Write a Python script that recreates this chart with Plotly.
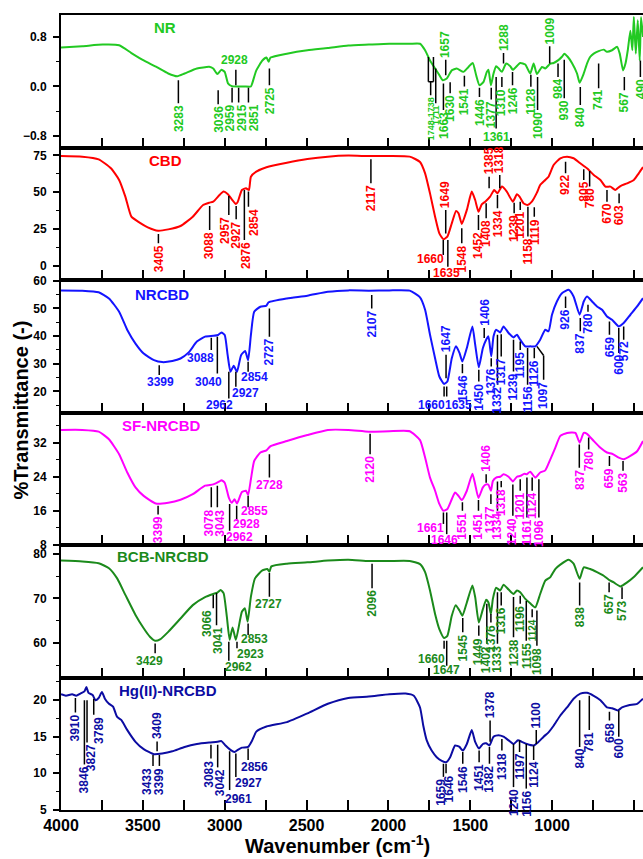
import plotly.graph_objects as go

FONT = "Liberation Sans, Arial, sans-serif"

# ---------------- spectra (wavenumber, %T) ----------------
nr_wn = [4000,3870,3745,3645,3570,3495,3420,3345,3290,3245,
         3170,3095,3070,3045,3020,3000,2980,2957,2920,2880,
         2840,2832,2807,2770,2745,2732,2720,2620,2495,2370,
         2245,2120,1995,1870,1807,1776,1746,1715,1695,1668,
         1644,1613,1583,1542,1511,1485,1464,1444,1419,1399,
         1389,1374,1358,1342,1326,1307,1281,1256,1240,1195,
         1164,1134,1113,1093,1062,1042,1011,991,960,940,
         926,905,879,848,832,807,787,767,746,716,
         685,665,634,603,587,567,552,538,522,510,
         501,489,477,465,457,445]
nr_t = [0.63,0.65,0.676,0.666,0.54,0.42,0.32,0.21,0.166,0.21,
        0.29,0.317,0.29,0.20,0.27,0.236,0.05,0.005,0.0,0.0,
        0.0,0.05,0.26,0.42,0.467,0.40,0.467,0.53,0.585,0.62,
        0.66,0.676,0.69,0.69,0.69,0.585,0.42,0.29,0.21,0.10,
        0.128,0.26,0.29,0.236,0.316,0.38,0.18,0.02,0.075,0.236,
        0.27,0.02,0.21,0.327,0.29,0.236,0.37,0.327,0.27,0.38,
        0.354,0.21,0.37,0.20,0.316,0.29,0.37,0.38,0.43,0.48,
        0.53,0.48,0.38,0.21,0.06,0.21,0.37,0.48,0.53,0.57,
        0.595,0.56,0.585,0.64,0.53,0.26,0.37,0.585,0.90,0.585,
        1.12,0.53,1.07,0.42,1.12,0.8]

cbd_wn = [4000,3870,3770,3695,3645,3607,3570,3520,3470,3407,
          3345,3270,3195,3132,3095,3070,3032,3007,2982,2957,
          2932,2920,2895,2870,2852,2840,2807,2745,2620,2495,
          2370,2245,2120,1995,1870,1807,1776,1746,1715,1689,
          1664,1640,1613,1587,1572,1552,1521,1491,1470,1450,
          1430,1409,1379,1354,1334,1307,1277,1240,1215,1199,
          1175,1150,1124,1093,1073,1042,1022,991,950,909,
          869,828,787,746,705,675,644,614,583,542,
          501,471,445]
cbd_t = [74.5,74.1,72.3,66.2,58.3,47,33.4,29.4,26.2,23.9,
         24.8,27.1,33.4,41.3,42.9,43.6,48.1,50.4,48.8,45.2,
         42,43.6,51.5,52.6,51.5,60.5,63.9,66.9,70,72.5,
         74.1,74.8,74.5,74.5,74.1,70.5,62.8,49.2,33.4,22.1,
         18.1,19.9,28.9,37.3,35.7,28.5,38,50.4,44.7,36.8,
         41.8,43.6,47,51.5,49.2,53.8,50.4,43.6,48.6,47,
         42.5,41.3,43.6,49.7,54.9,58.3,60.5,68.4,73,74.1,
         73,69.6,66.2,61.7,58.3,53.8,53.8,51.5,54.2,56,
         58.3,62.8,67]

nrcbd_wn = [4000,3870,3770,3707,3645,3595,3545,3495,3432,3382,
            3320,3270,3220,3170,3120,3070,3040,3020,3000,2982,
            2965,2945,2925,2900,2875,2857,2840,2820,2782,2745,
            2732,2620,2495,2370,2245,2120,1995,1870,1807,1776,
            1746,1715,1689,1660,1640,1613,1587,1566,1548,1521,
            1487,1470,1448,1423,1403,1389,1372,1358,1342,1317,
            1297,1266,1236,1215,1195,1164,1134,1103,1073,1042,
            1022,1001,971,940,899,869,832,807,787,756,
            726,695,665,634,593,563,522,481,445]
nrcbd_t = [56.5,56.4,55.8,53.6,48.8,42.2,37.3,33.7,31.3,30.6,
           31,31.9,34.1,38,39.8,40.1,40.4,41.3,40.4,33.1,
           27.1,29.3,27.1,33.1,34.6,31.3,40.4,48.8,50.6,51,
           52.2,53.6,54.6,56,56.5,56.4,56.5,56.4,54,49.5,
           40.5,32,25.4,22.7,23.6,32,36.3,33.9,30.8,35.7,
           43.5,36.9,28.7,35.7,38.7,39.9,32.7,39.9,42.3,41.3,
           43.5,41.1,39.5,40.5,38.7,36.3,36.3,36.3,38.7,42.3,
           41.7,47.7,52.5,55.5,56.7,54.3,47.7,52.5,54.3,52.5,
           50.7,49.5,47.1,45.9,43.5,44.7,47.7,50.7,53.7]

sf_wn = [4000,3870,3770,3707,3645,3595,3545,3495,3420,3345,
         3270,3195,3120,3070,3032,3020,3000,2975,2957,2940,
         2925,2895,2870,2857,2840,2820,2782,2745,2720,2620,
         2495,2370,2245,2120,1995,1870,1807,1776,1746,1715,
         1689,1664,1640,1613,1593,1572,1552,1521,1487,1470,
         1450,1423,1403,1389,1374,1362,1342,1317,1297,1266,
         1240,1215,1195,1170,1154,1134,1103,1073,1042,1011,
         981,950,909,858,832,807,787,746,705,665,
         634,593,563,522,481,445]
sf_t = [35,35,34.6,32.8,29.3,25,21.5,19.5,17.7,17.9,
        18.6,19.9,21.9,22.2,22.9,23.2,22.6,19.1,17.9,18.7,
        17.7,20.4,20.7,19.7,23.4,27.7,29.7,30.2,31.2,32.4,
        33.8,35,35,34.6,34.7,34.7,32.6,28.5,23.8,20.7,
        17.6,16,16.4,18.7,20.3,19.5,18.5,20.7,24.7,22.2,
        19,21.5,22.2,22.1,20.7,23,23.8,24,24.6,24,
        22.9,24,24.2,24.7,24.6,25.2,23.8,25,25.5,28.1,
        30.8,33.6,34.3,34.3,32,34.3,34.1,32.4,30.8,29.7,
        29.4,28.5,28.1,28.9,30,32.4]

bcb_wn = [4000,3870,3770,3707,3657,3607,3545,3495,3457,3425,
          3395,3345,3270,3195,3120,3070,3045,3025,3007,2987,
          2970,2952,2932,2895,2877,2860,2840,2815,2770,2740,
          2727,2715,2620,2495,2370,2245,2120,1995,1870,1807,
          1776,1746,1715,1689,1660,1640,1613,1589,1566,1548,
          1521,1487,1470,1448,1423,1403,1389,1374,1362,1342,
          1317,1297,1266,1236,1215,1195,1164,1134,1103,1073,
          1042,1011,981,950,899,869,832,807,767,726,
          685,654,624,583,542,501,445]
bcb_t = [78.5,78.3,77.9,76.8,74.5,70.8,66.3,63.3,61.4,60.5,
         60.8,62.5,65.5,68.5,70.3,71,71.3,71.9,71.2,65.9,
         60.7,63.5,60.7,67,67.8,64.8,70.4,74.5,76.3,76.6,
         76,77.2,77.8,78.1,78.5,78.7,78.4,78.4,78.4,77.7,
         75.9,71.8,66.5,63.1,61.1,61.6,66.1,68.5,67.3,66.1,
         69.1,72.9,70.3,64.6,67.6,69.7,69.1,66.5,69.9,72.4,
         71.8,73.1,72,71,71.8,71.4,69.9,68.9,68,71,
         74,74.8,76.6,77.6,78.7,77.8,74.4,77,76.6,75.9,
         75.1,74.2,73.6,72.7,73.6,74.8,77]

hg_wn = [4000,3970,3932,3907,3882,3857,3845,3832,3807,3790,
         3770,3750,3732,3707,3682,3657,3632,3595,3545,3495,
         3432,3382,3320,3245,3170,3095,3045,3020,2995,2965,
         2940,2920,2895,2857,2832,2807,2745,2620,2495,2370,
         2245,2120,1995,1895,1845,1807,1787,1766,1736,1705,
         1674,1648,1623,1593,1566,1546,1521,1491,1470,1446,
         1423,1403,1383,1358,1328,1297,1266,1236,1209,1185,
         1154,1113,1083,1052,1022,991,950,909,869,828,
         787,746,705,665,634,599,573,532,481,445]
hg_t = [20.8,20.6,20.8,20.6,20.9,21.2,21.8,21,20.7,20,
        20.3,21.1,20.2,19.5,19.1,17.7,17.3,15.9,14.3,13.3,
        12.6,12.7,13,13.6,14,14.2,14.3,14.4,13.8,13.2,
        12.9,13.2,13.5,13.6,14.5,15.7,16.4,17,18.2,19.5,
        20.3,20.5,20.8,20.9,20.6,19,16.5,14.5,13.1,12.2,
        11.7,11.5,12.2,13.8,13.6,13.1,14,15.9,14.3,13.4,
        14,14.1,13.8,15,15.2,15,14.5,14,14.5,14.3,
        14,13.8,14.3,15,15.6,16.5,17.9,19,20.2,20.9,
        21,20.6,20,19,18.9,18.6,19,19.3,19.5,20.2]

# ---------------- peak labels ----------------
# (label, line wavenumber, line start %T, line end %T, label wavenumber or None)
nr_peaks = [("3283",3283,0.10,-0.27,None),("3036",3040,-0.06,-0.285,None),
            ("2959",2955,-0.02,-0.26,2965),("2915",2915,-0.02,-0.26,2893),
            ("2851",2855,-0.02,-0.26,2820),("2725",2727,0.29,0.02,None),
            ("1748-1738",1742,0.075,-0.14,None),("1711",1711,0.29,-0.27,None),
            ("1663",1664,0.05,-0.38,None),("1657",1650,0.18,0.43,None),
            ("1630",1623,0.07,-0.11,None),("1541",1536,0.175,0.0,None),
            ("1446",1444,-0.02,-0.17,None),("1377",1372,-0.02,-0.21,None),
            ("1310",1307,0.155,-0.007,None),("1288",1297,0.37,0.54,None),
            ("1246",1242,0.235,0.02,None),("1128",1130,0.19,-0.006,None),
            ("1090",1089,0.155,-0.38,None),("1009",1015,0.37,0.65,None),
            ("984",964,0.37,0.155,None),("930",926,0.43,-0.19,None),
            ("840",828,-0.007,-0.30,None),("741",716,0.37,-0.03,None),
            ("567",559,0.155,-0.06,None),("490",461,0.42,0.155,None)]
# (label, line wavenumber, line start, line end, label wavenumber, label %T) - horizontal labels
nr_hpeaks = [("2928",2932,0.02,0.27,2940,0.435),("1361",1342,0.155,-0.68,1340,-0.81)]
nr_small = ["1748-1738","1711"]
nr_bracket_wn = [1756,1725]
nr_bracket_t = [0.477,0.075]

cbd_peaks = [("3405",3405,21.7,15.4,None),("3088",3092,40.7,24.4,None),
             ("2957",2975,47.4,34.6,2995),("2927",2930,40.7,31.6,2932),
             ("2876",2880,51.5,17.6,2873),("2854",2855,50.4,40.2,2822),
             ("2117",2107,72.3,56,None),("1649",1650,22,38,None),
             ("1548",1552,25.5,15.4,None),("1452",1450,34.6,24.4,None),
             ("1408",1403,42.5,32.3,None),("1385",1385,52.6,60.5,None),
             ("1318",1320,52.6,61.7,None),("1334",1334,48.1,39.1,None),
             ("1239",1232,42.9,35.7,None),("1201",1195,43.6,38,None),
             ("1158",1148,40.2,19.9,None),("1119",1109,39.8,33.4,None),
             ("922",918,70.7,62.8,None),("805",807,65.5,58.3,None),
             ("780",771,64.4,53.8,None),("670",665,51.5,43.6,None),
             ("603",591,49.2,42.5,None)]
cbd_hpeaks = [("1660",1665,17.6,7.5,1740,5.0),("1635",1637,17.6,-0.5,1644,-5.0)]

nrcbd_peaks = [("2727",2727,50,39.8,None),("2107",2102,54.8,50,None),
               ("1647",1648,24.8,33.3,None),("1546",1548,29.9,26.6,None),
               ("1450",1448,27.8,23.6,None),("1406",1415,39.3,42.9,None),
               ("1376",1372,32,29,None),("1332",1334,40.5,22.4,None),
               ("1317",1311,40.7,32.6,None),("1239",1236,38.7,27.2,None),
               ("1195",1195,38,35,None),("1156",1150,35.7,22.4,None),
               ("1126",1109,35.7,32,None),("1097",1052,33,24.2,None),
               ("926",918,54.3,50.1,None),("837",828,46.5,41.7,None),
               ("780",781,51.3,48.8,None),("659",650,45.3,40.5,None),
               ("600",593,42.9,33.9,None),("572",563,43.5,38.7,None)]
nrcbd_hpeaks = [("3399",3400,29.5,25.9,3395,23.5),("3088",3082,39.4,35,3145,31.9),
                ("3040",3045,39.8,26.5,3102,23.5),("2962",2975,27.1,17.5,3032,15.1),
                ("2927",2932,27.1,21.7,2875,19.6),("2854",2857,30.7,27.1,2820,25.3),
                ("1660",1660,21.8,18.2,1738,15.0),("1635",1644,21.8,18.2,1575,15.0)]
nrcbd_kink_wn = [1093,1052]
nrcbd_kink_t = [36.3,33]

sf_peaks = [("3399",3407,17.2,15.1,None),("3078",3082,21.5,16.8,3098),
            ("3043",3045,21.9,16.8,3030),("2120",2112,34.1,29.3,None),
            ("1551",1548,18,16,None),("1451",1450,18.5,16,None),
            ("1406",1403,22.6,24.6,None),("1377",1374,19.9,17.6,None),
            ("1334",1334,22.9,16,None),("1318",1311,23,21.5,None),
            ("1240",1240,22.2,14.8,None),("1201",1195,23.4,20.7,None),
            ("1161",1154,23.8,14.4,None),("1124",1122,23.8,20.7,None),
            ("1096",1081,23.4,14.4,None),("837",834,31.6,26.1,None),
            ("780",777,33.2,30.4,None),("659",650,28.9,26.5,None),
            ("563",567,27.7,25.4,None)]
sf_hpeaks = [("2962",2970,17.6,11.3,2912,9.9),("2928",2927,17.2,13.7,2870,12.9),
             ("2855",2857,19.5,16.8,2820,16.0),("2728",2727,29.3,23.8,2725,22.1),
             ("1661",1664,15.6,12.9,1745,11.9),("1646",1644,15.6,10.5,1660,9.1)]

bcb_peaks = [("3066",3070,70.8,67.8,3107),("3041",3050,71.2,64,3045),
             ("2096",2100,77.8,72.3,None),("1545",1546,65.6,62.4,None),
             ("1449",1448,63.9,61.6,None),("1402",1399,68.8,59.8,None),
             ("1376",1374,66.5,64.6,None),("1333",1334,71.4,59.8,None),
             ("1316",1311,71.4,68.4,None),("1238",1236,70.3,61.3,None),
             ("1196",1195,70.6,68.8,None),("1155",1158,69.4,60.5,None),
             ("1124",1122,67.6,65.8,None),("1098",1093,67.3,59.4,None),
             ("838",832,73.6,68.4,None),("657",652,73.6,71.4,None),
             ("573",573,72.5,69.9,None)]
bcb_hpeaks = [("3429",3425,59.9,57.7,3457,56.0),("2962",2975,60.3,56,2915,54.5),
              ("2923",2925,60.3,58.8,2845,57.5),("2853",2857,64.4,61.8,2820,60.8),
              ("2727",2727,75.7,70.4,2730,68.7),("1660",1660,60.5,58.7,1736,56.4),
              ("1647",1644,60.5,54.9,1644,53.9)]
bcb_small = ["1124"]

hg_peaks = [("3910",3912,20.3,18.3,None),("3846",3857,20,11.2,None),
            ("3827",3841,20,14.2,3816),("3789",3800,20.2,18,3764),
            ("3409",3413,13,14.35,None),("3433",3438,12.5,11.0,3471),
            ("3399",3399,12.5,11.0,3397),("3083",3084,13.9,12.0,3098),
            ("3042",3043,13.9,10.8,3027),("1659",1664,11.3,9.5,1676),
            ("1646",1648,11.3,10,1632),("1546",1546,12.9,11.3,None),
            ("1451",1446,13.1,11.5,None),("1378",1379,14.3,17.2,None),
            ("1382",1383,13.6,11.3,None),("1318",1307,14.7,13.1,None),
            ("1240",1236,14,8.1,None),("1197",1199,14.5,12.9,None),
            ("1156",1158,14,7.9,None),("1124",1113,13.8,11.8,None),
            ("1100",1097,14,15.9,None),("840",832,20,13.6,None),
            ("781",773,20.6,15.9,None),("658",650,18.4,17.2,None),
            ("600",593,18.6,15,None)]
hg_hpeaks = [("2961",2970,13,7.7,2915,6.5),("2927",2932,12.7,9.5,2857,8.7),
             ("2856",2857,13.4,11.8,2820,10.9)]

panels = [
    dict(name="NR", color="#22c922", wn=nr_wn, t=nr_t, peaks=nr_peaks, hpeaks=nr_hpeaks,
         small=nr_small, rng=[-0.985, 1.154], dtick=0.8, minor=0.4, fmt=".1f", npos=(0.179, 0.907)),
    dict(name="CBD", color="#ff0000", wn=cbd_wn, t=cbd_t, peaks=cbd_peaks, hpeaks=cbd_hpeaks,
         small=[], rng=[-9.5, 80.3], dtick=25, minor=12.5, fmt="d", npos=(0.179, 0.90)),
    dict(name="NRCBD", color="#1414ff", wn=nrcbd_wn, t=nrcbd_t, peaks=nrcbd_peaks, hpeaks=nrcbd_hpeaks,
         small=[], rng=[12.4, 60.25], dtick=10, minor=5, fmt="d", npos=(0.174, 0.894)),
    dict(name="SF-NRCBD", color="#ff00ff", wn=sf_wn, t=sf_t, peaks=sf_peaks, hpeaks=sf_hpeaks,
         small=[], rng=[7.95, 39.1], dtick=8, minor=4, fmt="d", npos=(0.172, 0.90)),
    dict(name="BCB-NRCBD", color="#1b8a1b", wn=bcb_wn, t=bcb_t, peaks=bcb_peaks, hpeaks=bcb_hpeaks,
         small=bcb_small, rng=[52.25, 82.0], dtick=10, minor=5, fmt="d", npos=(0.176, 0.91)),
    dict(name="Hg(II)-NRCBD", color="#0c0ca2", wn=hg_wn, t=hg_t, peaks=hg_peaks, hpeaks=hg_hpeaks,
         small=[], rng=[4.97, 23.1], dtick=5, minor=2.5, fmt="d", npos=(0.184, 0.90)),
]

fig = go.Figure()
layout = {}
n = len(panels)
for i, p in enumerate(panels):
    k = i + 1
    xa = "x" if k == 1 else f"x{k}"
    ya = "y" if k == 1 else f"y{k}"
    col = p["color"]
    fig.add_trace(go.Scatter(x=p["wn"], y=p["t"], xaxis=xa, yaxis=ya, mode="lines",
                             line=dict(color=col, width=2, shape="spline", smoothing=0.5),
                             hoverinfo="skip", showlegend=False))
    lx, ly = [], []
    for lab, w, y0, y1, lw in p["peaks"]:
        lx += [w, w, None]; ly += [y0, y1, None]
    for lab, w, y0, y1, lw, lyy in p["hpeaks"]:
        lx += [w, w, None]; ly += [y0, y1, None]
    if p["name"] == "NR":
        for bw in nr_bracket_wn:
            lx += [bw, bw, None]; ly += [nr_bracket_t[0], nr_bracket_t[1], None]
        lx += [nr_bracket_wn[0], nr_bracket_wn[1], None]; ly += [nr_bracket_t[1], nr_bracket_t[1], None]
    if p["name"] == "NRCBD":
        lx += nrcbd_kink_wn + [None]; ly += nrcbd_kink_t + [None]
    fig.add_trace(go.Scatter(x=lx, y=ly, xaxis=xa, yaxis=ya, mode="lines",
                             line=dict(color="black", width=1.5), hoverinfo="skip", showlegend=False))
    for lab, w, y0, y1, lw in p["peaks"]:
        below = y1 < y0
        size = 12
        if lab in p["small"]:
            size = 9 if p["name"] == "NR" else 10
        fig.add_annotation(x=lw if lw is not None else w, y=y1, xref=xa, yref=ya,
                           text=f"<b>{lab}</b>", textangle=-90, showarrow=False,
                           xanchor="center", yanchor="top" if below else "bottom",
                           yshift=-1 if below else 1, borderpad=0,
                           font=dict(family=FONT, size=size, color=col))
    for lab, w, y0, y1, lw, lyy in p["hpeaks"]:
        fig.add_annotation(x=lw, y=lyy, xref=xa, yref=ya, text=f"<b>{lab}</b>",
                           showarrow=False, xanchor="center", yanchor="middle", borderpad=0,
                           font=dict(family=FONT, size=12, color=col))
    fig.add_annotation(x=p["npos"][0], y=p["npos"][1], xref=f"{xa} domain", yref=f"{ya} domain",
                       text=f"<b>{p['name']}</b>", showarrow=False, xanchor="center", yanchor="middle",
                       font=dict(family=FONT, size=15, color=col))

    top = 1 - i / n
    bot = 1 - (i + 1) / n
    xname = "xaxis" if k == 1 else f"xaxis{k}"
    yname = "yaxis" if k == 1 else f"yaxis{k}"
    layout[xname] = dict(domain=[0, 1], anchor=ya, range=[4000, 445],
                         tick0=0, dtick=500, showticklabels=(k == n),
                         ticks="inside", ticklen=10, tickwidth=1.5, tickcolor="black",
                         minor=dict(dtick=250, tick0=0, ticks="inside", ticklen=10,
                                    tickwidth=1.5, tickcolor="black", showgrid=False),
                         showline=True, mirror=True, linecolor="black",
                         linewidth=2, showgrid=False, zeroline=False,
                         tickfont=dict(family=FONT, size=16, color="black", weight="bold"))
    layout[yname] = dict(domain=[bot, top], anchor=xa, range=p["rng"], tick0=0, dtick=p["dtick"],
                         tickformat=p["fmt"], ticks="outside", ticklen=6, tickwidth=1.5,
                         tickcolor="black", showline=True, linecolor="black", linewidth=2,
                         showgrid=False, zeroline=False, ticklabelstandoff=4,
                         minor=dict(dtick=p["minor"], tick0=0, ticks="outside", ticklen=3,
                                    tickwidth=1.2, tickcolor="black", showgrid=False),
                         tickfont=dict(family=FONT, size=12, color="black", weight="bold"))

fig.update_layout(**layout)
fig.add_annotation(x=0.4745, y=-0.043, xref="paper", yref="paper",
                   text="<b>Wavenumber (cm<sup>-1</sup>)</b>", showarrow=False,
                   xanchor="center", yanchor="middle",
                   font=dict(family=FONT, size=20, color="black"))
fig.add_annotation(x=-0.068, y=0.503, xref="paper", yref="paper",
                   text="<b>%Transmittance (-)</b>", showarrow=False, textangle=-90,
                   xanchor="center", yanchor="middle",
                   font=dict(family=FONT, size=20, color="black"))
fig.update_layout(width=643, height=859, margin=dict(l=61, r=0, t=15, b=49),
                  paper_bgcolor="white", plot_bgcolor="white", showlegend=False)
fig.write_html("out.html", config={"displayModeBar": False},
               post_script="document.body.style.margin='0';document.body.style.padding='0';document.body.style.overflow='hidden';")
